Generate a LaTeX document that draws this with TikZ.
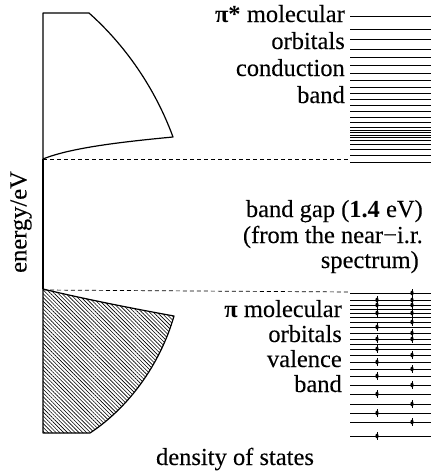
\documentclass[tikz,border=0pt]{standalone}
\usepackage{fontspec}
\setmainfont{Liberation Serif}[UprightFeatures={FakeBold=0.12}]
\usetikzlibrary{patterns.meta}
\begin{document}
\begin{tikzpicture}[x=1pt,y=-1pt,
  lab/.style={font=\fontsize{24.5}{28}\selectfont, inner sep=0pt, anchor=base east},
  labc/.style={font=\fontsize{24.5}{28}\selectfont, inner sep=0pt, anchor=base},
  dosline/.style={line width=1.2pt, line join=round},
  lvl/.style={line width=1pt},
  gapline/.style={line width=0.7pt, dash pattern=on 4pt off 3pt},
  elec/.pic={\draw[line width=1pt] (0,-4) -- (0,4); \fill (0,0) ellipse (1.6pt and 2.4pt);}]
\useasboundingbox (0,0) rectangle (431,472);

% conduction band density of states
\draw[dosline] (43,159) -- (43,13) -- (89,13) .. controls (125,45) and (155,88) .. (173,137)
  .. controls (120,142) and (70,148) .. (43,159);
% energy axis
\draw[line width=1.2pt] (43,159) -- (43,289);
% valence band density of states (filled)
\draw[dosline, pattern={Lines[angle=-45,distance=2.7pt,line width=0.6pt]}]
  (43,289) .. controls (80,298) and (130,308) .. (174,316)
  .. controls (160,365) and (128,408) .. (90,433) -- (43,433) -- cycle;

% band edges
\coordinate (cbL) at (43,159);
\coordinate (cbR) at (350,159);
\coordinate (vbL) at (43,290);
\coordinate (vbR) at (350,292);
\draw[gapline] (cbL) -- (cbR);
\draw[gapline] (vbL) -- (vbR);

% conduction band levels
\foreach \y in {16,29,39,49,57,65,73,80,87,93,99,105,111,117,122,127,130,132.5,135,137.5,140,144,149,155,162}
  \draw[lvl] (350,\y) -- (431,\y);

% valence band levels
\foreach \y in {293,300,305,309,313,317,322,327,333,339,344,349,355,362,369,376,385,394,404,413,422,436}
  \draw[lvl] (350,\y) -- (431,\y);
% electrons
\foreach \y in {300,305,313,327,339,349,362,376,394,413,436}
  \pic at (377,\y) {elec};
\foreach \y in {293,300,305,313,322,333,339,355,369,385,404,422}
  \pic at (412,\y) {elec};

% labels
\node[lab] (pistar) at (345,22) {{\bfseries π*} molecular};
\node[lab] (orb1) at (345,49) {orbitals};
\node[lab] (cond) at (345,76) {conduction};
\node[lab] (band1) at (345,103) {band};

\node[lab] (gap1) at (423,217) {band gap (\textbf{1.4} eV)};
\node[lab] (gap2) at (423,243) {(from the near−i.r.};
\node[lab] (gap3) at (419,268) {spectrum)};

\node[lab] (pi) at (342,317) {{\bfseries π} molecular};
\node[lab] (orb2) at (342,342) {orbitals};
\node[lab] (val) at (342,367) {valence};
\node[lab] (band2) at (342,392) {band};

\node[labc] (dos) at (235,465) {density of states};
\node[font=\fontsize{24.5}{28}\selectfont, inner sep=0pt, rotate=90] (en) at (21,222) {energy/eV};
\end{tikzpicture}
\end{document}
